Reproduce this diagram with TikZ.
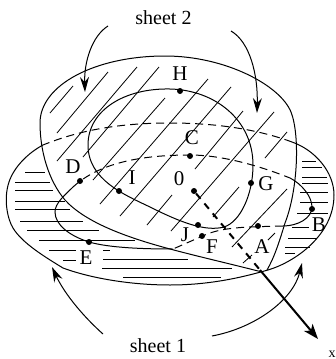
\documentclass[tikz,border=0pt]{standalone}
\usepackage{fontspec}
\setmainfont{Liberation Serif}
\usetikzlibrary{arrows.meta}
\tikzset{
  sheetline/.style={line width=1pt},
  hatchline/.style={line width=.8pt},
  hiddenline/.style={line width=1pt,dash pattern=on 8pt off 5pt},
  pointer/.style={line width=1pt,-{Stealth[length=15pt,width=9pt,inset=5pt]}},
  axisline/.style={line width=2pt},
  pointdot/.style={circle,fill=black,inner sep=0pt,minimum size=6pt},
  pointlabel/.style={font=\fontsize{21}{21}\selectfont,inner sep=0pt},
  sheetlabel/.style={font=\fontsize{20}{20}\selectfont,inner sep=0pt}
}
\begin{document}
\begin{tikzpicture}[x=1pt,y=-1pt]
  \useasboundingbox (0,0) rectangle (335,359);
  % horizontal hatching, lower sheet
  \foreach \a/\b/\c in {25/45/172,15/50/182,15/53/190,15/65/201,15/70/209,20/83/221,27/99/230,39/135/240,49/76/250,63/76/260,103/110/250,103/188/259,102/232/268,123/221/277,
    302/316/161,302/322/167,302/327/177,302/328/183,300/328/192,300/328/202,297/328/213,292/309/227,288/317/238,285/310/247,285/295/253}
    {\draw[hatchline] (\a,\c)--(\b,\c);}
  % slanted hatching, upper sheet
  \foreach \a/\b/\c/\d in {50/113/73/86,57/133/108/72,57/161/137/67,83/157/159/67,93/180/165/98,100/204/208/79,120/216/231/87,147/225/172/195,195/169/243/111,171/231/274/112,213/217/239/187,265/158/287/132,232/247/287/189,268/240/275/233,243/263/252/255}
    {\draw[hatchline] (\a,\b)--(\c,\d);}
  % outer edge of lower sheet, the hidden part is dashed
  \draw[sheetline] (43,145) .. controls (28,153) and (14,167) .. (9,182) .. controls (3,200) and (8,220) .. (13,228) .. controls (22,243) and (45,257) .. (63,268) .. controls (90,278) and (130,285) .. (170,285) .. controls (215,285) and (250,275) .. (268,270) .. controls (295,262) and (334,235) .. (334,195) .. controls (334,172) and (315,150) .. (292,142);
  \draw[hiddenline] (292,142) .. controls (265,132) and (225,123) .. (170,123) .. controls (120,123) and (80,130) .. (43,145);
  % outer edge of upper sheet
  \draw[sheetline] (262,272) .. controls (235,265) and (200,257) .. (170,249) .. controls (125,237) and (85,222) .. (65,200) .. controls (48,180) and (40,150) .. (40,123) .. controls (40,85) and (95,56) .. (165,56) .. controls (225,56) and (280,85) .. (291,112) .. controls (300,135) and (298,190) .. (285,223) .. controls (279,243) and (274,258) .. (267,270);
  % inner curve on the upper sheet
  \draw[sheetline] (88,145) .. controls (88,110) and (125,88) .. (170,89) .. controls (215,90) and (253,120) .. (253,165) .. controls (253,195) and (240,222) .. (224,227) .. controls (205,232) and (180,222) .. (150,207) .. controls (125,195) and (88,180) .. (88,145);
  % inner curve on the lower sheet, the hidden part is dashed
  \draw[sheetline] (173,249) .. controls (145,249) and (110,248) .. (89,242) .. controls (70,236) and (55,225) .. (55,212) .. controls (55,203) and (65,195) .. (73,187);
  \draw[hiddenline] (73,187) .. controls (95,167) and (130,155) .. (190,155) .. controls (225,155) and (265,168) .. (290,178);
  \draw[sheetline] (290,178) .. controls (302,184) and (312,197) .. (312,207) .. controls (312,218) and (298,226) .. (283,226);
  \draw[hiddenline] (283,226) .. controls (255,227) and (225,226) .. (205,235) -- (173,249);
  % points and their letters
  \foreach \n/\px/\py/\lx/\ly/\t in {ptH/180/91/180/74/H,ptC/190/156/192/138/C,ptD/80/181/73/167/D,ptI/119/191/132/178/I,ptO/194/191/179/179/0,ptG/251/183/266/184/G,ptJ/198/225/185/235/J,ptF/202/236/212/247/F,ptA/258/226/262/247/A,ptB/312/209/319/225/B,ptE/89/242/86/258/E}
    {\node[pointdot] (\n) at (\px,\py) {}; \node[pointlabel] (lab\n) at (\lx,\ly) {\t};}
  % the x axis
  \coordinate (axisexit) at (260,270);
  \coordinate (axisend) at (318,339);
  \draw[axisline,dash pattern=on 7pt off 6pt] (ptO)--(axisexit);
  \draw[axisline,-{Stealth[length=15pt,width=11pt,inset=4pt]}] (axisexit)--(axisend);
  \node[inner sep=0pt,font=\fontsize{14}{14}\selectfont] (labx) at (332,354) {x};
  % sheet names and pointers
  \node[sheetlabel] (sheettwo) at (163.5,18) {sheet 2};
  \node[sheetlabel] (sheetone) at (158,346) {sheet 1};
  \coordinate (tsA) at (108,26); \coordinate (tsB) at (85,92);
  \coordinate (tsC) at (231,31); \coordinate (tsD) at (257,113);
  \coordinate (osA) at (103,334); \coordinate (osB) at (52,267);
  \coordinate (osC) at (212,336); \coordinate (osD) at (302,263);
  \draw[pointer] (tsA) .. controls (92,36) and (84,62) .. (tsB);
  \draw[pointer] (tsC) .. controls (250,42) and (258,75) .. (tsD);
  \draw[pointer] (osA) .. controls (85,318) and (65,295) .. (osB);
  \draw[pointer] (osC) .. controls (255,328) and (293,300) .. (osD);
\end{tikzpicture}
\end{document}
